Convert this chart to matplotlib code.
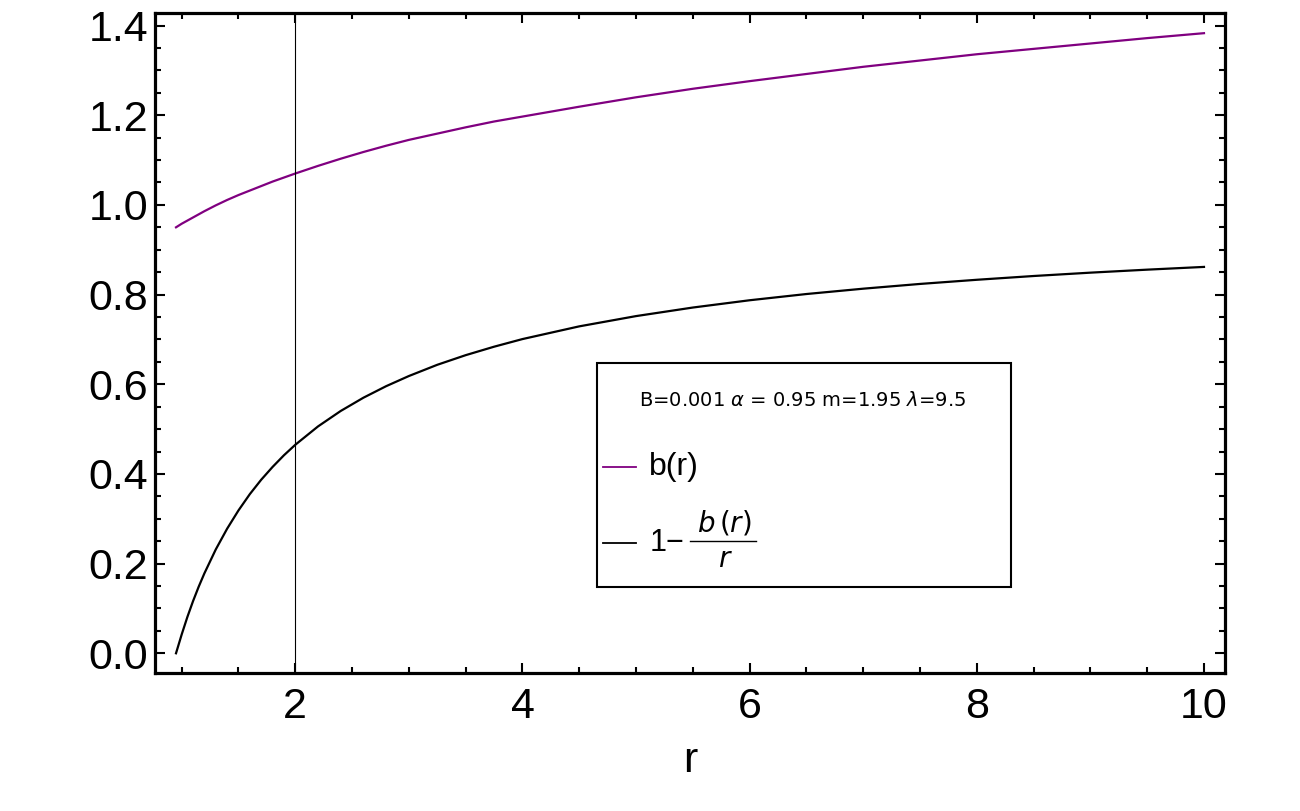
import numpy as np
import matplotlib
matplotlib.use('Agg')
import matplotlib.pyplot as plt
from matplotlib.patches import Rectangle
from matplotlib.ticker import MultipleLocator

plt.rcParams['font.family'] = ['Liberation Sans', 'DejaVu Sans']
plt.rcParams['mathtext.fontset'] = 'dejavusans'

# b(r)
r = np.array([0.95, 1.0, 1.05, 1.1, 1.15, 1.2, 1.3, 1.4, 1.5, 1.6, 1.7, 1.8,
              1.9, 2.0, 2.2, 2.4, 2.6, 2.8, 3.0, 3.25, 3.5, 3.75, 4.0, 4.5,
              5.0, 5.5, 6.0, 6.5, 7.0, 7.5, 8.0, 8.5, 9.0, 9.5, 10.0])
b = np.array([0.950, 0.958, 0.965, 0.972, 0.979, 0.986, 0.999, 1.011, 1.022,
              1.032, 1.042, 1.052, 1.061, 1.070, 1.087, 1.103, 1.118, 1.132,
              1.145, 1.159, 1.173, 1.186, 1.197, 1.219, 1.240, 1.259, 1.276,
              1.292, 1.308, 1.322, 1.336, 1.348, 1.360, 1.372, 1.383])
shape = 1 - b / r   # the black curve, 1 - b(r)/r
r_mark = 2.0        # vertical guide line

x_ticks = [2, 4, 6, 8, 10]
y_ticks = [0.0, 0.2, 0.4, 0.6, 0.8, 1.0, 1.2, 1.4]
title_txt = r'B=0.001 $\alpha$ = 0.95 m=1.95 $\lambda$=9.5'

fig = plt.figure(figsize=(13, 8.11), dpi=100)
ax = fig.add_axes([155/1300, 1 - 673/811, 1070/1300, 660/811])

ax.plot(r, b, color='#800080', lw=1.6)
ax.plot(r, shape, color='black', lw=1.6)
ax.axvline(r_mark, color='black', lw=0.8)

ax.set_xlim(0.765, 10.185)
ax.set_ylim(-0.044, 1.428)

ax.set_xticks(x_ticks)
ax.set_yticks(y_ticks)
ax.set_yticklabels(['%.1f' % v for v in y_ticks])
ax.xaxis.set_minor_locator(MultipleLocator(0.5))
ax.yaxis.set_minor_locator(MultipleLocator(0.05))
ax.tick_params(which='both', direction='in', top=True, right=True, width=1.5)
ax.tick_params(which='major', length=7, labelsize=31)
ax.tick_params(which='minor', length=4)
ax.tick_params(axis='x', pad=10)
ax.tick_params(axis='y', pad=5)
for s in ax.spines.values():
    s.set_linewidth(2.3)

ax.set_xlabel('r', fontsize=31, labelpad=10)

# legend box drawn by hand
tr = ax.transAxes
ax.add_patch(Rectangle((0.4131, 0.1303), 0.3869, 0.3394, transform=tr,
                       fill=False, edgecolor='black', lw=1.5, zorder=5))
ax.text(0.6056, 0.4136, title_txt, transform=tr, ha='center',
        va='center', fontsize=14, family=['DejaVu Sans'])
ax.plot([0.4187, 0.4495], [0.3121, 0.3121], transform=tr,
        color='#800080', lw=1.3)
ax.plot([0.4187, 0.4495], [0.197, 0.197], transform=tr,
        color='black', lw=1.3)
ax.text(0.4617, 0.3121, 'b(r)', transform=tr, ha='left',
        va='center', fontsize=23)
# 1 - b(r)/r, built as a stacked fraction
ax.text(0.4625, 0.197, '1\u2212', transform=tr, ha='left', va='center',
        fontsize=22)
ax.plot([0.5000, 0.5614], [0.2, 0.2], transform=tr, color='black', lw=1.0)
ax.text(0.5318, 0.2273, r'$b\,(r)$', transform=tr, ha='center',
        va='center', fontsize=20)
ax.text(0.5327, 0.1712, r'$r$', transform=tr, ha='center',
        va='center', fontsize=20)

fig.savefig('out.png', dpi=100)
